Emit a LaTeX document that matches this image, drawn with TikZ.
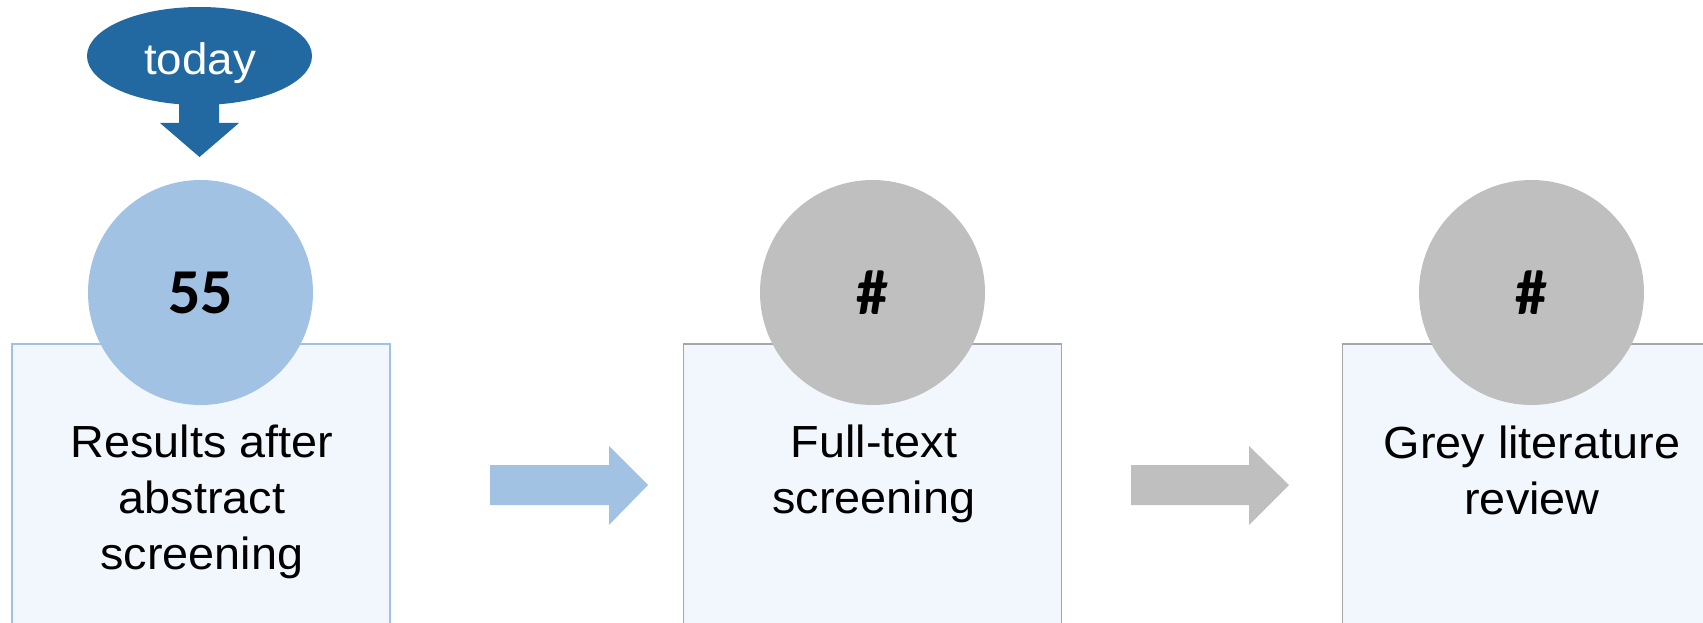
\documentclass[tikz,border=0pt]{standalone}
\usepackage{fontspec}
\setmainfont{Liberation Sans}[FakeStretch=1.04]
\newfontfamily\numfont{Carlito}
\usetikzlibrary{shapes.geometric}
\definecolor{todayblue}{RGB}{34,104,161}
\definecolor{circblue}{RGB}{162,194,228}
\definecolor{circgrey}{RGB}{191,191,191}
\definecolor{boxfill}{RGB}{242,247,253}
\definecolor{blueedge}{RGB}{160,193,228}
\definecolor{greyedge}{RGB}{166,166,166}
\begin{document}
\begin{tikzpicture}[x=1pt,y=-1pt]
\tikzset{
  stagebox/.style={draw, line width=1.5pt, fill=boxfill, rectangle, inner sep=0pt,
    minimum width=378pt, minimum height=300pt, anchor=north},
  badge/.style={circle, minimum size=225pt, inner sep=0pt,
    font=\numfont\bfseries\fontsize{64}{64}\selectfont},
  stagelabel/.style={font=\fontsize{45}{56}\selectfont, align=center, anchor=base, inner sep=0pt},
}
\useasboundingbox (0,0) rectangle (1703,623);
\clip (0,0) rectangle (1703,623);
% boxes
\node[stagebox, draw=blueedge] (b1) at (201,343) {};
\node[stagebox, draw=greyedge] (b2) at (872.5,343) {};
\node[stagebox, draw=greyedge] (b3) at (1531.5,343) {};
% circles
\node[badge, fill=circblue] (c1) at (200.5,292.5) {55};
\node[badge, fill=circgrey] (c2) at (872.5,292.5) {\#};
\node[badge, fill=circgrey] (c3) at (1531.5,292.5) {\#};
% labels (base anchor = baseline of last line)
\node[stagelabel] (t1) at (202,569) {Results after\\abstract\\screening};
\node[stagelabel] (t2) at (874,513) {Full-text\\screening};
\node[stagelabel] (t3) at (1532,514) {Grey literature\\review};
% today marker
\node[ellipse, fill=todayblue, minimum width=225pt, minimum height=98pt, inner sep=0pt] (today) at (199.5,56) {};
\node[font=\fontsize{44}{44}\selectfont, text=white, anchor=base, inner sep=0pt] (todaytext) at (200,75) {today};
\fill[todayblue] (179,100) -- (179,123) -- (160,123) -- (199.5,157) -- (239,123) -- (219,123) -- (219,100) -- cycle;
% block arrows
\fill[circblue] (490,465) -- (609,465) -- (609,446) -- (648,485) -- (609,525) -- (609,505) -- (490,505) -- cycle;
\fill[circgrey] (1131,465) -- (1249,465) -- (1249,446) -- (1289,485) -- (1249,525) -- (1249,505) -- (1131,505) -- cycle;
\end{tikzpicture}
\end{document}
